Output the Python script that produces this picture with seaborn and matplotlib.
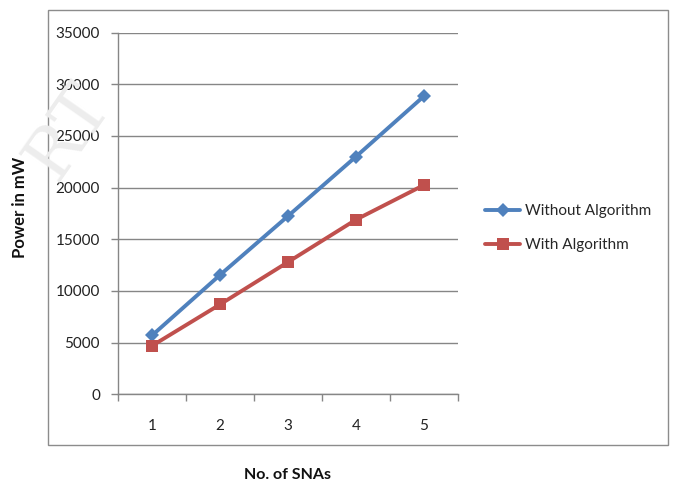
import matplotlib
matplotlib.use("Agg")
import matplotlib.pyplot as plt
import seaborn as sns
import pandas as pd
from matplotlib.patches import Rectangle

# ---- data ----
snas = [1, 2, 3, 4, 5]
without_alg = [5700, 11550, 17250, 23000, 28850]
with_alg = [4700, 8700, 12800, 16900, 20250]
series_names = ["Without Algorithm", "With Algorithm"]
y_ticks = [0, 5000, 10000, 15000, 20000, 25000, 30000, 35000]

df = pd.DataFrame({
    "x": snas * 2,
    "y": without_alg + with_alg,
    "series": [series_names[0]] * len(snas) + [series_names[1]] * len(snas),
})

sns.set_theme(style="white")
plt.rcParams["font.family"] = ["Lato", "DejaVu Sans"]

fig = plt.figure(figsize=(6.77, 4.86), dpi=100)
fig.patch.set_facecolor("white")

# outer chart border
fig.patches.append(Rectangle((48 / 677, 1 - 445 / 486), (668 - 48) / 677, (445 - 10) / 486,
                             transform=fig.transFigure, fill=False, edgecolor="#8c8c8c",
                             linewidth=1.0, zorder=0))

# faint watermark
fig.text(68 / 677, 1 - 132 / 486, "RT", fontsize=50, family="DejaVu Serif",
         color="#ededed", rotation=55, rotation_mode="anchor", ha="center", va="center",
         zorder=0)

ax = fig.add_axes([118 / 677, 1 - 394.4 / 486, (458 - 118) / 677, (394.4 - 32.5) / 486])
ax.set_facecolor("none")

palette = {series_names[0]: "#4F81BD", series_names[1]: "#C0504D"}
markers = {series_names[0]: "D", series_names[1]: "s"}
sns.lineplot(data=df, x="x", y="y", hue="series", style="series", palette=palette,
             markers=markers, dashes=False, linewidth=2.8, markersize=8,
             markeredgewidth=0, ax=ax, legend=True)
for line in ax.lines:
    if line.get_marker() == "D":
        line.set_markersize(7.5)
    elif line.get_marker() == "s":
        line.set_markersize(9)

ax.set_xlim(0.5, 5.5)
ax.set_ylim(0, 35000)
ax.set_yticks(y_ticks)
ax.set_yticklabels([str(v) for v in y_ticks], fontsize=11, color="#222222")
ax.set_xticks(snas)
ax.set_xticklabels([str(v) for v in snas], fontsize=11, color="#222222")
ax.set_xticks([0.5 + i for i in range(6)], minor=True)
ax.tick_params(axis="x", which="major", length=0, pad=18)
ax.tick_params(axis="x", which="minor", length=5, color="#868686", width=1, direction="out", bottom=True)
ax.tick_params(axis="y", which="major", length=5, color="#868686", width=1, direction="out", left=True, pad=8)

ax.grid(axis="y", color="#868686", linewidth=1)
ax.set_axisbelow(True)
for s in ["top", "right"]:
    ax.spines[s].set_visible(False)
for s in ["left", "bottom"]:
    ax.spines[s].set_color("#868686")
    ax.spines[s].set_linewidth(1)

ax.set_xlabel("")
ax.set_ylabel("")
fig.text(288 / 677, 1 - 475 / 486, "No. of SNAs", fontsize=11.5, fontweight="bold",
         ha="center", va="center", color="#111111")
fig.text(20 / 677, 1 - 207 / 486, "Power in mW", fontsize=12, fontweight="bold",
         ha="center", va="center", rotation=90, color="#111111")

handles, labels = ax.get_legend_handles_labels()
ax.legend(handles, labels, loc="center left", bbox_to_anchor=(479 / 677, 1 - 228 / 486),
          bbox_transform=fig.transFigure, frameon=False, fontsize=11, handlelength=2.3,
          handletextpad=0.3, labelspacing=1.3, borderaxespad=0)

fig.savefig("out.png", dpi=100, facecolor="white")
